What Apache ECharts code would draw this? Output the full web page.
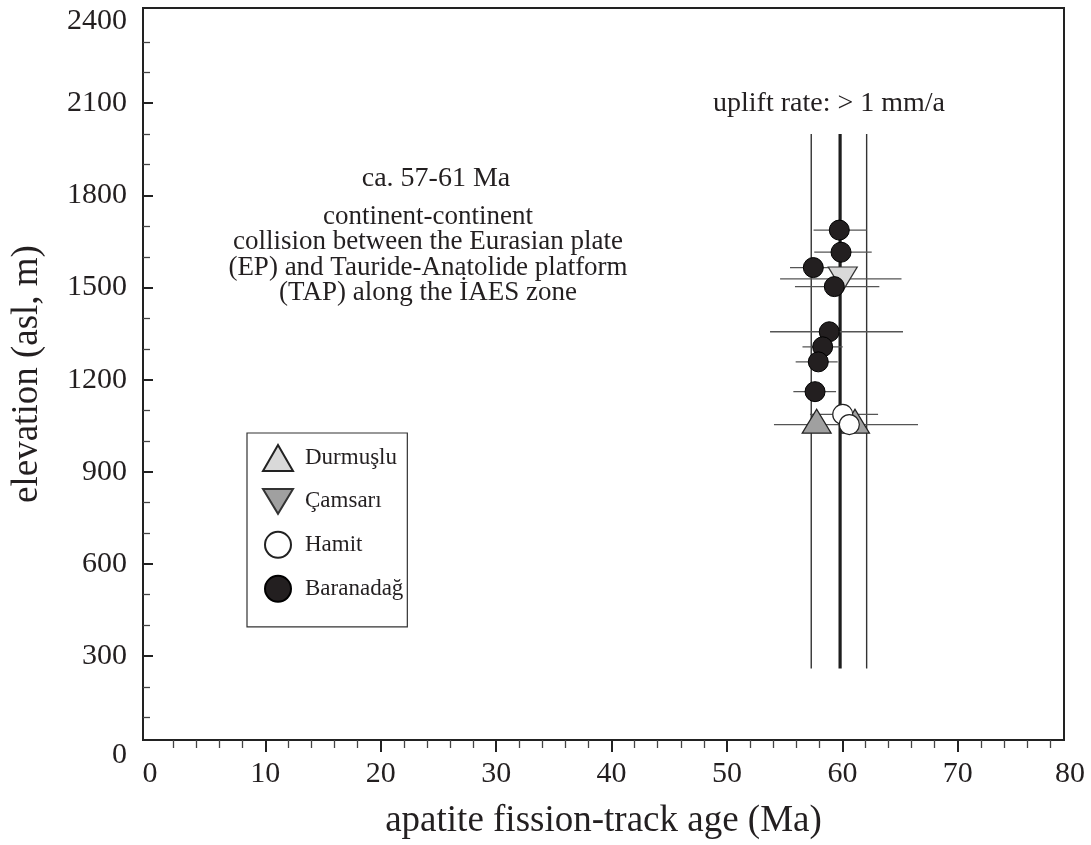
<!DOCTYPE html>
<html><head><meta charset="utf-8">
<script src="https://cdn.jsdelivr.net/npm/echarts@6/dist/echarts.min.js"></script>
<style>html,body{margin:0;padding:0;background:#fff}#c{width:1091px;height:845px}</style>
</head><body><div id="c"></div>
<script>
const FONT = '"Liberation Serif","Times New Roman",serif';
const INK = '#231f20';

// axis extents
const xRange = [-0.6, 79.2];
const yRange = [27, 2410];
const xMajorTicks = [10, 20, 30, 40, 50, 60, 70];
const xMinorTicks = [2,4,6,8,12,14,16,18,22,24,26,28,32,34,36,38,42,44,46,48,52,54,56,58,62,64,66,68,72,74,76,78];
const xTickLabels = [0, 10, 20, 30, 40, 50, 60, 70, 80];
const yMajorTicks = [300, 600, 900, 1200, 1500, 1800, 2100];
const yMinorTicks = [100,200,400,500,700,800,1000,1100,1300,1400,1600,1700,1900,2000,2200,2300];
const yTickLabels = [0, 300, 600, 900, 1200, 1500, 1800, 2100, 2400];

const groups = ['Durmuşlu', 'Çamsarı', 'Hamit', 'Baranadağ'];
// [age (Ma), elevation (m)]
const durmusluPts = [[57.77, 1065], [61.09, 1065]];
const camsariPts = [[60.03, 1528]];
const hamitPts = [[60.03, 1087], [60.6, 1054]];
const baranadagPts = [[59.73, 1687], [59.88, 1615], [57.48, 1565], [59.3, 1503], [58.86, 1356], [58.29, 1307], [57.91, 1258], [57.63, 1161]];

// horizontal error bars: [age low, age high, elevation]
const errorBars = [
  [54.6, 65.12, 1528],
  [57.19, 63.09, 1087],
  [54.07, 66.55, 1054],
  [57.5, 62.1, 1687],
  [57.56, 62.54, 1615],
  [55.46, 59.21, 1565],
  [55.89, 63.2, 1503],
  [53.73, 65.25, 1356],
  [56.54, 60.03, 1307],
  [55.95, 59.59, 1258],
  [55.75, 59.45, 1161]
];
// vertical reference lines (age) spanning an elevation range
const refAges = [57.3, 59.8, 62.1];
const refElevRange = [260, 2000];

const annoUplift = 'uplift rate: > 1 mm/a';
const annoAge = 'ca. 57-61 Ma';
const annoEvent = 'continent-continent\ncollision between the Eurasian plate\n(EP) and Tauride-Anatolide platform\n(TAP) along the İAES zone';

const chart = echarts.init(document.getElementById('c'));

const xLabelVals = xTickLabels.map(v => Math.min(v, xRange[1]));
const yLabelVals = yTickLabels.map(v => Math.max(v, yRange[0]));

const axisLineStyle = { color: '#222', width: 2 };
const tickFont = { fontFamily: FONT, fontSize: 30, color: INK };

const option = {
  animation: false,
  backgroundColor: '#fff',
  grid: { left: 143, right: 27, top: 8, bottom: 105, show: true, borderColor: '#222', borderWidth: 2, backgroundColor: 'transparent' },
  xAxis: [
    {
      type: 'value', min: xRange[0], max: xRange[1], position: 'bottom',
      axisLine: { show: true, onZero: false, lineStyle: axisLineStyle },
      axisTick: { show: true, inside: false, length: 12, customValues: xMajorTicks, lineStyle: { color: '#222', width: 2 } },
      axisLabel: {
        customValues: xLabelVals, margin: 19, ...tickFont,
        formatter: v => v > 79 ? '{edge|' + Math.round(v / 10) * 10 + '}' : String(Math.round(v)),
        rich: { edge: { ...tickFont, padding: [0, 0, 0, 12] } }
      },
      splitLine: { show: false },
      name: 'apatite fission-track age (Ma)', nameLocation: 'middle', nameGap: 63,
      nameTextStyle: { fontFamily: FONT, fontSize: 37, color: INK }
    },
    {
      type: 'value', min: xRange[0], max: xRange[1], position: 'bottom',
      axisLine: { show: false, onZero: false },
      axisTick: { show: true, inside: false, length: 8, customValues: xMinorTicks, lineStyle: { color: '#444', width: 1.3 } },
      axisLabel: { show: false },
      splitLine: { show: false }
    }
  ],
  yAxis: [
    {
      type: 'value', min: yRange[0], max: yRange[1], position: 'left',
      axisLine: { show: true, onZero: false, lineStyle: axisLineStyle },
      axisTick: { show: true, inside: true, length: 10, customValues: yMajorTicks, lineStyle: { color: '#222', width: 2 } },
      axisLabel: {
        customValues: yLabelVals, margin: 16, ...tickFont,
        formatter: v => {
          const r = Math.round(v / 300) * 300;
          if (v < 100) return '{lo|' + r + '}';
          if (r === 2400) return '{hi|' + r + '}';
          return String(r);
        },
        rich: { lo: { ...tickFont, padding: [30, 0, 0, 0] }, hi: { ...tickFont, padding: [20, 0, 0, 0] } }
      },
      splitLine: { show: false },
      name: 'elevation (asl, m)', nameLocation: 'middle', nameGap: 97,
      nameTextStyle: { fontFamily: FONT, fontSize: 37, color: INK }
    },
    {
      type: 'value', min: yRange[0], max: yRange[1], position: 'left',
      axisLine: { show: false, onZero: false },
      axisTick: { show: true, inside: true, length: 7, customValues: yMinorTicks, lineStyle: { color: '#444', width: 1.3 } },
      axisLabel: { show: false },
      splitLine: { show: false }
    }
  ],
  legend: {
    orient: 'vertical', left: 247, top: 433,
    padding: [11, 4, 24, 15], itemGap: 16, itemWidth: 30, itemHeight: 26,
    borderColor: '#333', borderWidth: 1.2, backgroundColor: '#fff',
    selectedMode: false,
    textStyle: { fontFamily: FONT, fontSize: 23, color: INK, padding: [0, 0, 0, 7] },
    data: [
      { name: groups[0], itemStyle: { color: '#d9d9d9' } },
      { name: groups[1], itemStyle: { color: '#a0a0a0' } },
      { name: groups[2] },
      { name: groups[3] }
    ]
  },
  graphic: [
    { type: 'text', position: [829, 104], silent: true,
      style: { text: annoUplift, align: 'center', verticalAlign: 'middle', font: '28px ' + FONT, fill: INK } },
    { type: 'text', position: [436, 179], silent: true,
      style: { text: annoAge, align: 'center', verticalAlign: 'middle', font: '28px ' + FONT, fill: INK } },
    { type: 'text', position: [428, 204], silent: true,
      style: { text: annoEvent, align: 'center', verticalAlign: 'top', font: '27px ' + FONT, lineHeight: 25.5, fill: INK } }
  ],
  series: [
    {
      type: 'custom', name: 'ref', silent: true,
      data: refAges.map(a => [a, refElevRange[0], refElevRange[1]]),
      encode: { x: 0, y: [1, 2] },
      renderItem: (params, api) => {
        const p0 = api.coord([api.value(0), api.value(1)]);
        const p1 = api.coord([api.value(0), api.value(2)]);
        const thick = params.dataIndex === 1;
        return { type: 'line', shape: { x1: p0[0], y1: p0[1], x2: p1[0], y2: p1[1] },
          style: { stroke: thick ? '#1e1e1e' : '#333', lineWidth: thick ? 3.2 : 1.4 } };
      }
    },
    {
      type: 'custom', name: 'err', silent: true,
      data: errorBars,
      encode: { x: [0, 1], y: 2 },
      renderItem: (params, api) => {
        const p0 = api.coord([api.value(0), api.value(2)]);
        const p1 = api.coord([api.value(1), api.value(2)]);
        return { type: 'line', shape: { x1: p0[0], y1: p0[1], x2: p1[0], y2: p1[1] },
          style: { stroke: '#555', lineWidth: 1.3 } };
      }
    },
    {
      type: 'scatter', name: groups[0], data: durmusluPts, symbol: 'triangle', symbolSize: [29, 24],
      itemStyle: { color: '#a0a0a0', borderColor: '#222', borderWidth: 1.2, opacity: 1 }
    },
    {
      type: 'scatter', name: groups[1], data: camsariPts, symbol: 'path://M0,0L29,0L14.5,24Z', symbolSize: [29, 24],
      itemStyle: { color: '#d9d9d9', borderColor: '#333', borderWidth: 1.2, opacity: 1 }
    },
    {
      type: 'scatter', name: groups[2], data: hamitPts, symbol: 'circle', symbolSize: 20,
      itemStyle: { color: '#ffffff', borderColor: '#222', borderWidth: 1.2, opacity: 1 }
    },
    {
      type: 'scatter', name: groups[3], data: baranadagPts, symbol: 'circle', symbolSize: 20,
      itemStyle: { color: '#231f20', borderColor: '#000', borderWidth: 1, opacity: 1 }
    }
  ]
};
chart.setOption(option);
</script>
</body></html>
